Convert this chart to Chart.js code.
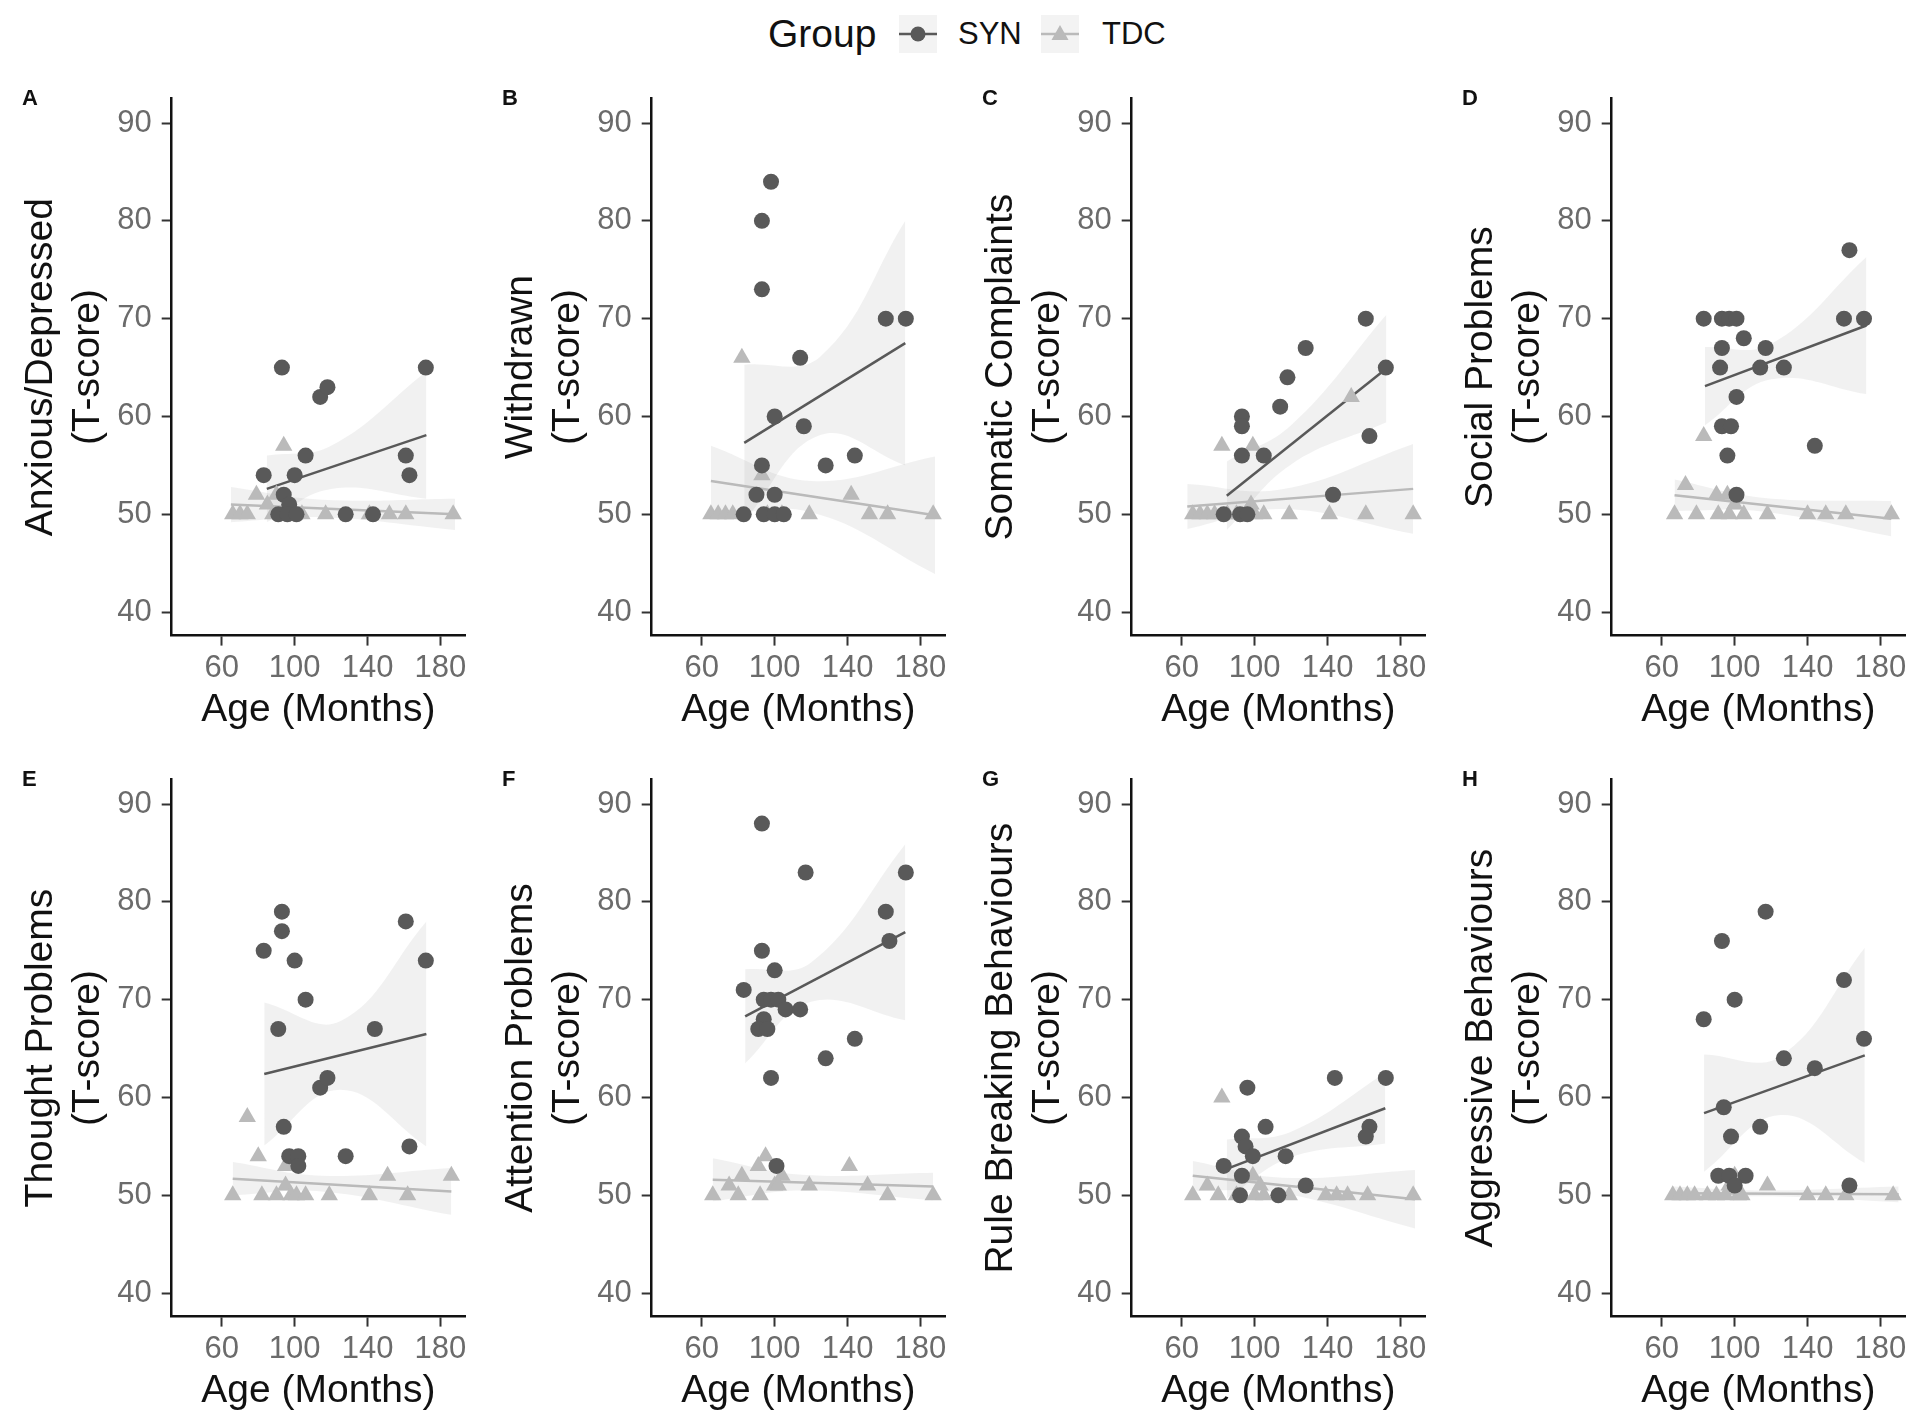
<!DOCTYPE html>
<html>
<head>
<meta charset="utf-8">
<title>CBCL T-scores by age</title>
<script src="https://cdn.jsdelivr.net/npm/chart.js@4.4.1/dist/chart.umd.min.js"></script>
<style>
  html, body { margin: 0; padding: 0; background: #fff; overflow: hidden;
               width: 1910px; height: 1417px; position: relative;
               font-family: "Liberation Sans", Arial, sans-serif; color: #111; }
  .panel { position: absolute; width: 490px; height: 664px; }
  .tag { position: absolute; font-weight: bold; font-size: 22px; line-height: 22px; }
  .lg { position: absolute; top: 14px; height: 40px; line-height: 40px; white-space: nowrap; }
</style>
</head>
<body>
  <div class="lg" style="left:768px;font-size:39px;">Group</div>
  <svg class="lg" style="left:899px;" width="38" height="40">
    <rect x="0" y="1" width="38" height="38" fill="#f3f3f3"/>
    <line x1="0" y1="20" x2="38" y2="20" stroke="#595959" stroke-width="2.5"/>
    <circle cx="19" cy="20" r="7.5" fill="#595959"/>
  </svg>
  <div class="lg" style="left:958px;font-size:31px;">SYN</div>
  <svg class="lg" style="left:1041px;" width="38" height="40">
    <rect x="0" y="1" width="38" height="38" fill="#f3f3f3"/>
    <line x1="0" y1="20" x2="38" y2="20" stroke="#bababa" stroke-width="2.5"/>
    <polygon points="19,11 27.5,26 10.5,26" fill="#bababa"/>
  </svg>
  <div class="lg" style="left:1102px;font-size:31px;">TDC</div>
<script>
const xTicks = [60, 100, 140, 180];
const yTicks = [40, 50, 60, 70, 80, 90];
const xTitle = 'Age (Months)';

// A: Anxious/Depressed
const synAgeA   = [93, 114, 118, 172, 83, 106, 100, 161, 163, 94, 97, 128, 91, 96, 101, 143];
const synScoreA = [65, 62, 63, 65, 54, 56, 54, 56, 54, 52, 51, 50, 50, 50, 50, 50];
const tdcAgeA   = [66, 70, 74, 79, 85, 88, 94, 96, 100, 104, 117, 141, 152, 161, 187, 90];
const tdcScoreA = [50, 50, 50, 52, 51, 50, 57, 51, 50, 50, 50, 50, 50, 50, 50, 52];
const synLineA  = [84.7, 52.6, 172.3, 58.1];   // age0, score0, age1, score1
const tdcLineA  = [65, 51.0, 188, 50.0];
const synBandA  = [[84.7, 49.2, 56.0], [120, 52.6, 57.0], [172.3, 51.6, 64.6]];   // age, lower, upper
const tdcBandA  = [[65, 49.2, 52.8], [115, 49.7, 51.5], [188, 48.4, 51.6]];

// B: Withdrawn
const synAgeB   = [98, 93, 93, 161, 172, 114, 100, 116, 128, 144, 93, 90, 100, 83, 94, 100, 105];
const synScoreB = [84, 80, 73, 70, 70, 66, 60, 59, 55, 56, 55, 52, 52, 50, 50, 50, 50];
const tdcAgeB   = [82, 93, 142, 119, 65, 69, 73, 77, 96, 104, 152, 162, 187];
const tdcScoreB = [66, 54, 52, 50, 50, 50, 50, 50, 50, 50, 50, 50, 50];
const synLineB  = [83.3, 57.3, 171.7, 67.5];
const tdcLineB  = [65, 53.4, 188, 49.9];
const synBandB  = [[83.3, 49.3, 65.3], [125, 58.1, 66.1], [171.7, 55.0, 80.0]];
const tdcBandB  = [[65, 49.8, 57.0], [120, 50.2, 53.4], [188, 43.9, 55.9]];

// C: Somatic Complaints
const synAgeC   = [161, 128, 118, 172, 114, 93, 93, 93, 105, 163, 143, 83, 92, 96];
const synScoreC = [70, 67, 64, 65, 61, 60, 59, 56, 56, 58, 52, 50, 50, 50];
const tdcAgeC   = [82, 99, 153, 66, 70, 74, 78, 85, 90, 95, 100, 105, 119, 141, 161, 187, 98];
const tdcScoreC = [57, 57, 62, 50, 50, 50, 50, 50, 50, 50, 50, 50, 50, 50, 50, 50, 51];
const synLineC  = [84.7, 51.9, 172.3, 64.9];
const tdcLineC  = [63, 50.8, 187, 52.6];
const synBandC  = [[84.7, 48.4, 55.4], [120, 55.1, 59.1], [172.3, 59.4, 70.4]];
const tdcBandC  = [[63, 48.5, 53.1], [115, 50.55, 52.55], [187, 48.0, 57.2]];

// D: Social Problems
const synAgeD   = [163, 83, 93, 97, 101, 160, 171, 93, 105, 117, 92, 114, 127, 101, 93, 98, 96, 144, 101];
const synScoreD = [77, 70, 70, 70, 70, 70, 70, 67, 68, 67, 65, 65, 65, 62, 59, 59, 56, 57, 52];
const tdcAgeD   = [83, 73, 90, 96, 67, 79, 91, 97, 105, 118, 140, 150, 161, 186, 100];
const tdcScoreD = [58, 53, 52, 52, 50, 50, 50, 50, 50, 50, 50, 50, 50, 50, 51];
const synLineD  = [83.7, 63.1, 172.3, 69.3];
const tdcLineD  = [67, 51.95, 186, 49.55];
const synBandD  = [[83.7, 59.1, 67.1], [120, 63.8, 67.4], [172.3, 62.3, 76.3]];
const tdcBandD  = [[67, 50.35, 53.55], [115, 50.3, 51.7], [186, 47.75, 51.35]];

// E: Thought Problems
const synAgeE   = [93, 93, 83, 100, 161, 172, 106, 91, 144, 114, 118, 94, 97, 102, 102, 128, 163];
const synScoreE = [79, 77, 75, 74, 78, 74, 70, 67, 67, 61, 62, 57, 54, 54, 53, 54, 55];
const tdcAgeE   = [74, 80, 95, 151, 186, 95, 66, 82, 90, 98, 101, 106, 119, 141, 162];
const tdcScoreE = [58, 54, 53, 52, 52, 51, 50, 50, 50, 50, 50, 50, 50, 50, 50];
const synLineE  = [83.3, 62.4, 172.3, 66.5];
const tdcLineE  = [66, 51.7, 186, 50.4];
const synBandE  = [[83.3, 55.1, 69.7], [125, 60.8, 67.8], [172.3, 55.0, 78.0]];
const tdcBandE  = [[66, 50.0, 53.4], [115, 50.4, 52.0], [186, 48.0, 52.8]];

// F: Attention Problems
const synAgeF   = [93, 117, 172, 161, 163, 93, 100, 83, 94, 98, 102, 106, 114, 94, 91, 96, 144, 128, 98, 101];
const synScoreF = [88, 83, 83, 79, 76, 75, 73, 71, 70, 70, 70, 69, 69, 68, 67, 67, 66, 64, 62, 53];
const tdcAgeF   = [95, 91, 82, 104, 75, 119, 141, 151, 66, 80, 92, 162, 187, 100, 102];
const tdcScoreF = [54, 53, 52, 52, 51, 51, 53, 51, 50, 50, 50, 50, 50, 51, 51];
const synLineF  = [83.8, 68.3, 171.7, 76.9];
const tdcLineF  = [66, 51.6, 187, 50.9];
const synBandF  = [[83.8, 63.5, 73.1], [120, 69.8, 73.8], [171.7, 67.9, 85.9]];
const tdcBandF  = [[66, 49.4, 53.8], [115, 50.5, 52.1], [187, 49.5, 52.3]];

// G: Rule Breaking Behaviours
const synAgeG   = [96, 144, 172, 106, 163, 161, 93, 95, 99, 117, 83, 93, 128, 113, 92];
const synScoreG = [61, 62, 62, 57, 57, 56, 56, 55, 54, 54, 53, 52, 51, 50, 50];
const tdcAgeG   = [82, 66, 74, 80, 90, 100, 105, 119, 139, 145, 151, 162, 187, 99, 103];
const tdcScoreG = [60, 50, 51, 50, 50, 50, 50, 50, 50, 50, 50, 50, 50, 52, 51];
const synLineG  = [84.7, 52.7, 171.7, 58.9];
const tdcLineG  = [66, 52.0, 188, 49.6];
const synBandG  = [[84.7, 49.7, 55.7], [120, 53.9, 56.5], [171.7, 55.3, 62.5]];
const tdcBandG  = [[66, 50.5, 53.5], [115, 50.2, 51.8], [188, 46.6, 52.6]];

// H: Aggressive Behaviours
const synAgeH   = [117, 93, 160, 100, 83, 171, 127, 144, 94, 114, 98, 91, 97, 106, 163, 100];
const synScoreH = [79, 76, 72, 70, 68, 66, 64, 63, 59, 57, 56, 52, 52, 52, 51, 51];
const tdcAgeH   = [66, 70, 74, 78, 85, 90, 95, 100, 102, 118, 140, 150, 161, 187, 97, 104];
const tdcScoreH = [50, 50, 50, 50, 50, 50, 50, 52, 50, 51, 50, 50, 50, 50, 51, 50];
const synLineH  = [83.2, 58.4, 171.4, 64.3];
const tdcLineH  = [66, 50.2, 190, 50.1];
const synBandH  = [[83.2, 52.4, 64.4], [125, 58.2, 64.2], [171.4, 53.3, 75.3]];
const tdcBandH  = [[66, 49.5, 50.9], [115, 49.9, 50.5], [190, 49.3, 50.9]];

const panels = [
  { tag: 'A', title: ['Anxious/Depressed', '(T-score)'], synAge: synAgeA, synScore: synScoreA, tdcAge: tdcAgeA, tdcScore: tdcScoreA, synLine: synLineA, tdcLine: tdcLineA, synBand: synBandA, tdcBand: tdcBandA },
  { tag: 'B', title: ['Withdrawn', '(T-score)'], synAge: synAgeB, synScore: synScoreB, tdcAge: tdcAgeB, tdcScore: tdcScoreB, synLine: synLineB, tdcLine: tdcLineB, synBand: synBandB, tdcBand: tdcBandB },
  { tag: 'C', title: ['Somatic Complaints', '(T-score)'], synAge: synAgeC, synScore: synScoreC, tdcAge: tdcAgeC, tdcScore: tdcScoreC, synLine: synLineC, tdcLine: tdcLineC, synBand: synBandC, tdcBand: tdcBandC },
  { tag: 'D', title: ['Social Problems', '(T-score)'], synAge: synAgeD, synScore: synScoreD, tdcAge: tdcAgeD, tdcScore: tdcScoreD, synLine: synLineD, tdcLine: tdcLineD, synBand: synBandD, tdcBand: tdcBandD },
  { tag: 'E', title: ['Thought Problems', '(T-score)'], synAge: synAgeE, synScore: synScoreE, tdcAge: tdcAgeE, tdcScore: tdcScoreE, synLine: synLineE, tdcLine: tdcLineE, synBand: synBandE, tdcBand: tdcBandE },
  { tag: 'F', title: ['Attention Problems', '(T-score)'], synAge: synAgeF, synScore: synScoreF, tdcAge: tdcAgeF, tdcScore: tdcScoreF, synLine: synLineF, tdcLine: tdcLineF, synBand: synBandF, tdcBand: tdcBandF },
  { tag: 'G', title: ['Rule Breaking Behaviours', '(T-score)'], synAge: synAgeG, synScore: synScoreG, tdcAge: tdcAgeG, tdcScore: tdcScoreG, synLine: synLineG, tdcLine: tdcLineG, synBand: synBandG, tdcBand: tdcBandG },
  { tag: 'H', title: ['Aggressive Behaviours', '(T-score)'], synAge: synAgeH, synScore: synScoreH, tdcAge: tdcAgeH, tdcScore: tdcScoreH, synLine: synLineH, tdcLine: tdcLineH, synBand: synBandH, tdcBand: tdcBandH }
];

const FONT = '"Liberation Sans", Arial, sans-serif';
const SYN_COL = '#595959';
const TDC_COL = '#bababa';
const BAND_COL = 'rgba(150,150,150,0.13)';

function toPoints(xs, ys) {
  return xs.map((x, i) => ({ x: x, y: ys[i] }));
}

function linePoints(l) {
  return [{ x: l[0], y: l[1] }, { x: l[2], y: l[3] }];
}

function bandPoints(band, k) {
  return band.map(r => ({ x: r[0], y: r[k] }));
}

// lower edge (invisible) followed by upper edge filled down to it
function bandSets(band) {
  return [
    { type: 'line', data: bandPoints(band, 1), borderColor: 'transparent', pointRadius: 0, tension: 0.4, fill: false, order: 3 },
    { type: 'line', data: bandPoints(band, 2), borderColor: 'transparent', pointRadius: 0, tension: 0.4, fill: '-1', backgroundColor: BAND_COL, order: 3 }
  ];
}

function axisStyle() {
  return {
    type: 'linear',
    grid: { drawOnChartArea: false, drawTicks: true, tickLength: 10, tickColor: '#333', tickWidth: 2 },
    border: { display: true, color: '#111', width: 2.5 },
    ticks: { color: '#6b6b6b', font: { size: 31, family: FONT }, maxRotation: 0, autoSkip: false }
  };
}

function drawPanel(p, i) {
  const col = i % 4;
  const top = i < 4 ? 70 : 751;

  const box = document.createElement('div');
  box.className = 'panel';
  box.style.left = (col * 480) + 'px';
  box.style.top = top + 'px';
  const canvas = document.createElement('canvas');
  box.appendChild(canvas);
  document.body.appendChild(box);

  const tag = document.createElement('div');
  tag.className = 'tag';
  tag.textContent = p.tag;
  tag.style.left = (col * 480 + 22) + 'px';
  tag.style.top = (top + 17) + 'px';
  document.body.appendChild(tag);

  const x = axisStyle();
  x.min = 32.5;
  x.max = 193.5;
  x.ticks.padding = 4;
  x.afterBuildTicks = s => { s.ticks = xTicks.map(v => ({ value: v })); };
  x.afterFit = s => { s.height = 98.4; };
  x.title = { display: true, text: xTitle, color: '#111', font: { size: 39, family: FONT }, padding: 0 };

  const y = axisStyle();
  y.min = 37.6;
  y.max = 92.5;
  y.ticks.padding = 10;
  y.afterBuildTicks = s => { s.ticks = yTicks.map(v => ({ value: v })); };
  y.afterFit = s => { s.width = 153.7; };
  y.title = { display: true, text: p.title, color: '#111', font: { size: 39, family: FONT }, padding: 0 };

  new Chart(canvas, {
    type: 'scatter',
    data: {
      datasets: [
        ...bandSets(p.synBand),
        ...bandSets(p.tdcBand),
        { type: 'line', label: 'SYN fit', data: linePoints(p.synLine), borderColor: SYN_COL, borderWidth: 2.5, pointRadius: 0, fill: false, order: 2 },
        { type: 'line', label: 'TDC fit', data: linePoints(p.tdcLine), borderColor: TDC_COL, borderWidth: 2.5, pointRadius: 0, fill: false, order: 2 },
        { label: 'TDC', data: toPoints(p.tdcAge, p.tdcScore), pointStyle: 'triangle', pointRadius: 10,
          backgroundColor: TDC_COL, borderColor: TDC_COL, borderWidth: 0, order: 1 },
        { label: 'SYN', data: toPoints(p.synAge, p.synScore), pointStyle: 'circle', pointRadius: 8,
          backgroundColor: SYN_COL, borderColor: SYN_COL, borderWidth: 0, order: 0 }
      ]
    },
    options: {
      animation: false,
      responsive: true,
      maintainAspectRatio: false,
      layout: { padding: { left: 18, right: 25, top: 20, bottom: 0 } },
      plugins: { legend: { display: false }, tooltip: { enabled: false } },
      scales: { x: x, y: y }
    }
  });
}

panels.forEach(drawPanel);
</script>
</body>
</html>
